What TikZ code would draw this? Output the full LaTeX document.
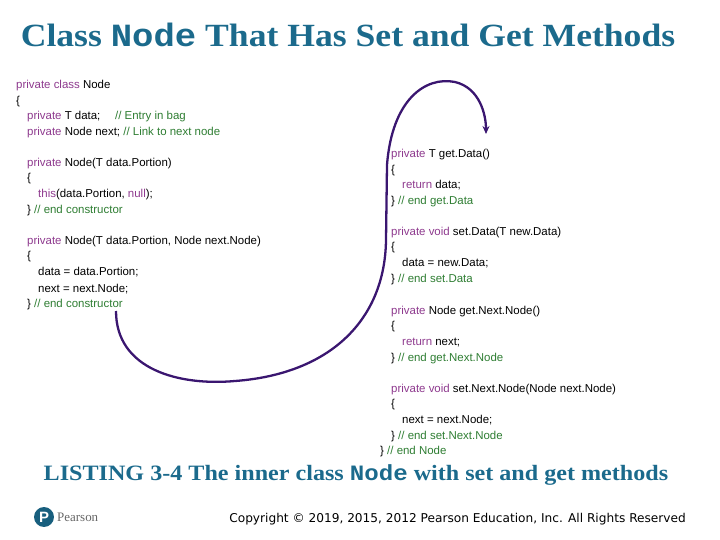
\documentclass[tikz,border=0pt]{standalone}
\usepackage{fontspec}
\setmainfont{Liberation Serif}
\setsansfont{Liberation Sans}
\setmonofont{Liberation Mono}
\newfontfamily\dvs{DejaVu Sans}
\usetikzlibrary{arrows.meta}
\definecolor{kw}{HTML}{8E3A8E}
\definecolor{cm}{HTML}{2E7D32}
\definecolor{ttl}{HTML}{1B6A8C}
\definecolor{arr}{HTML}{3A1670}
\newcommand{\K}[1]{\textcolor{kw}{#1}}
\newcommand{\C}[1]{\textcolor{cm}{#1}}
\begin{document}
\begin{tikzpicture}[x=1bp,y=-1bp,
  code/.style={anchor=base west,inner sep=0pt,font=\sffamily\fontsize{11.5}{13}\selectfont},
  ttlstyle/.style={anchor=base,inner sep=0pt,text=ttl}]
\useasboundingbox (0,0) rectangle (720,540);
\node[ttlstyle,font=\bfseries\fontsize{32.5}{36}\selectfont] (title) at (348,47) {\scalebox{1.1}[1]{Class \texttt{Node} That Has Set and Get Methods}};
% left column
\node[code] (a1) at (16,89) {\K{private class} Node};
\node[code] (a2) at (16,105) {\{};
\node[code] (a3) at (27,120) {\K{private} T data;\quad\ \C{// Entry in bag}};
\node[code] (a4) at (27,136) {\K{private} Node next; \C{// Link to next node}};
\node[code] (a5) at (27,167) {\K{private} Node(T data.Portion)};
\node[code] (a6) at (27,182) {\{};
\node[code] (a7) at (38,198) {\K{this}(data.Portion, \K{null});};
\node[code] (a8) at (27,214) {\} \C{// end constructor}};
\node[code] (a9) at (27,245) {\K{private} Node(T data.Portion, Node next.Node)};
\node[code] (a10) at (27,260) {\{};
\node[code] (a11) at (38,276) {data = data.Portion;};
\node[code] (a12) at (38,292) {next = next.Node;};
\node[code] (a13) at (27,307) {\} \C{// end constructor}};
% right column
\node[code] (b1) at (391,158) {\K{private} T get.Data()};
\node[code] (b2) at (391,174) {\{};
\node[code] (b3) at (402,189) {\K{return} data;};
\node[code] (b4) at (391,205) {\} \C{// end get.Data}};
\node[code] (b5) at (391,236) {\K{private void} set.Data(T new.Data)};
\node[code] (b6) at (391,251) {\{};
\node[code] (b7) at (402,267) {data = new.Data;};
\node[code] (b8) at (391,283) {\} \C{// end set.Data}};
\node[code] (b9) at (391,314) {\K{private} Node get.Next.Node()};
\node[code] (b10) at (391,329) {\{};
\node[code] (b11) at (402,345) {\K{return} next;};
\node[code] (b12) at (391,361) {\} \C{// end get.Next.Node}};
\node[code] (b13) at (391,392) {\K{private void} set.Next.Node(Node next.Node)};
\node[code] (b14) at (391,407) {\{};
\node[code] (b15) at (402,423) {next = next.Node;};
\node[code] (b16) at (391,439) {\} \C{// end set.Next.Node}};
\node[code] (b17) at (380,454) {\} \C{// end Node}};
% arrow
\coordinate (s) at (116,311);
\coordinate (e) at (486,134);
\draw[arr,line width=2.3pt,-{Stealth[length=8pt,width=7pt]}]
  (s) .. controls (116,370) and (180,386) .. (235,381)
  .. controls (330,374) and (385,320) .. (386,240)
  -- (387,165) .. controls (392,100) and (425,76) .. (455,82)
  .. controls (480,88) and (486,115) .. (e);
% caption
\node[ttlstyle,font=\bfseries\fontsize{22}{26}\selectfont] (cap) at (356,480) {\scalebox{1.1}[1]{LISTING 3-4 The inner class \texttt{Node} with set and get methods}};
% footer
\node[circle,fill=ttl!90!black,minimum size=20pt,inner sep=0pt,text=white,font=\sffamily\bfseries\fontsize{15}{15}\selectfont] (logo) at (44,517) {P};
\node[anchor=west,inner sep=0pt,text=gray!80!black,font=\fontsize{13}{14}\selectfont] (pearson) at (57,517) {Pearson};
\node[anchor=base east,inner sep=0pt,font=\dvs\fontsize{12.2}{14}\selectfont] (copy) at (686,522) {Copyright © 2019, 2015, 2012 Pearson Education, Inc. All Rights Reserved};
\end{tikzpicture}
\end{document}
